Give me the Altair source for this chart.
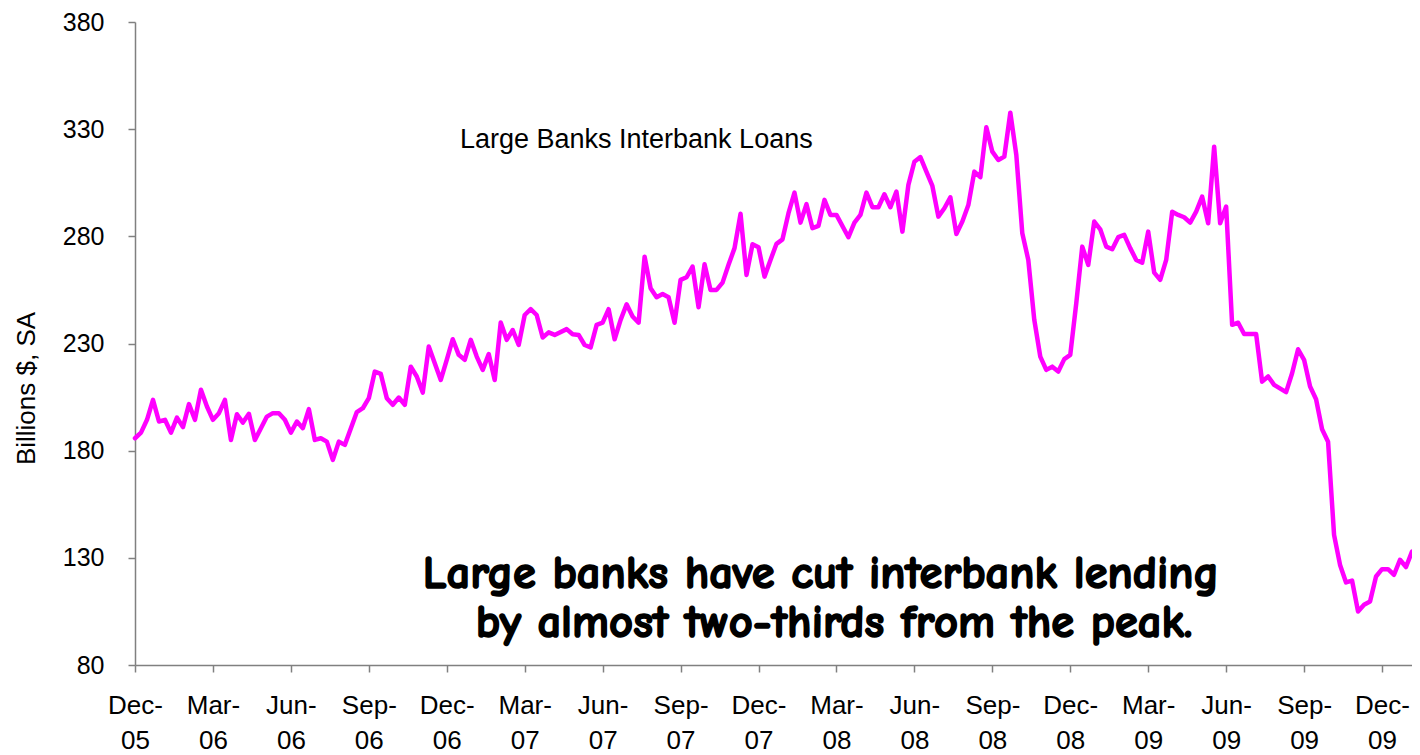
import altair as alt
import pandas as pd

# Weekly observations (week 0 = first week of Dec 2005), billions $, SA
weeks = [*range(0, 36), *range(37, 50), *range(51, 71), *range(72, 118),
         *range(119, 191), *range(192, 214)]
loans = [
    # weeks 0-35
    185.8, 188.4, 194.4, 203.7, 193.6, 194.4, 188.4, 195.4, 191.0, 201.7,
    194.4, 208.4, 200.6, 194.4, 197.5, 203.7, 185.0, 197.0, 193.1, 197.2,
    185.0, 190.5, 195.9, 197.5, 197.5, 194.4, 188.4, 193.6, 190.5, 199.4,
    185.0, 185.8, 184.2, 175.7, 184.2, 182.7,
    # weeks 37-49
    198.0, 199.8, 204.5, 216.9, 215.8, 204.5, 201.4, 204.8, 201.4, 219.2,
    214.6, 207.1, 228.6,
    # weeks 51-70
    213.0, 222.4, 232.0, 224.7, 222.4, 231.7, 223.9, 217.7, 225.1, 213.0,
    239.8, 231.7, 236.3, 229.3, 243.3, 246.0, 243.3, 232.8, 235.2, 234.0,
    # weeks 72-117
    236.7, 234.3, 234.0, 229.3, 228.2, 238.7, 239.7, 246.0, 232.0, 241.0,
    248.3, 242.6, 239.7, 270.5, 255.8, 251.6, 253.1, 251.6, 239.7, 259.7,
    260.9, 265.9, 246.9, 267.0, 255.0, 255.0, 258.4, 266.7, 274.5, 290.5,
    262.0, 276.3, 274.9, 261.2, 269.0, 276.5, 278.6, 290.8, 300.4, 286.4,
    295.0, 283.8, 284.9, 297.0, 290.0, 290.0,
    # weeks 119-190
    279.6, 286.4, 290.0, 300.4, 293.6, 293.6, 299.6, 293.6, 300.9, 282.2,
    304.0, 314.8, 317.0, 310.2, 303.5, 289.2, 293.1, 298.2, 281.1, 286.9,
    294.6, 310.2, 307.6, 330.9, 319.5, 315.6, 317.2, 337.7, 318.0, 281.4,
    269.0, 241.0, 223.9, 217.7, 219.2, 216.9, 222.7, 224.7, 248.8, 275.2,
    266.7, 286.9, 283.3, 275.2, 274.0, 279.6, 280.7, 274.5, 269.0, 267.7,
    282.2, 263.1, 259.7, 269.0, 291.5, 290.0, 288.9, 286.4, 291.5, 298.5,
    286.1, 321.8, 286.1, 293.9, 238.7, 239.7, 234.4, 234.4, 234.4, 212.2,
    214.6, 210.7,
    # weeks 192-213
    207.3, 216.1, 227.3, 222.4, 209.9, 204.0, 190.0, 184.2, 140.7, 126.7,
    118.5, 119.4, 105.0, 108.1, 109.6, 121.3, 124.7, 124.7, 122.1, 129.1,
    125.7, 132.9,
]

tick_weeks = list(range(0, 209, 13))
tick_labels = ["Dec-05", "Mar-06", "Jun-06", "Sep-06", "Dec-06", "Mar-07",
               "Jun-07", "Sep-07", "Dec-07", "Mar-08", "Jun-08", "Sep-08",
               "Dec-08", "Mar-09", "Jun-09", "Sep-09", "Dec-09"]
y_ticks = [80, 130, 180, 230, 280, 330, 380]

series_title = "Large Banks Interbank Loans"
note_lines = ["Large banks have cut interbank lending",
              "by almost two-thirds from the peak."]
# annotation anchor points in data coordinates (week, value)
title_pos = (54.2, 321.2)
note_pos_week = [114.4, 116.6]
note_pos_value = [116.0, 93.2]

line_df = pd.DataFrame({"week": weeks, "loans": loans})
title_df = pd.DataFrame({"week": [title_pos[0]], "loans": [title_pos[1]],
                         "text": [series_title]})
note_df = pd.DataFrame({"week": note_pos_week, "loans": note_pos_value,
                        "text": note_lines})

pairs = ",".join("['%s-','%s']" % tuple(l.split("-")) for l in tick_labels)
label_expr = f"[{pairs}][round(datum.value / 13)]"

AX = "#808080"
FONT = "Liberation Sans, Arial, sans-serif"

x_scale = alt.Scale(domain=[0, 213], nice=False, zero=False)
y_scale = alt.Scale(domain=[80, 380], nice=False, zero=False)

line = alt.Chart(line_df).mark_line(
    color="#FF00FF", strokeWidth=4.5, strokeJoin="round", strokeCap="round"
).encode(
    x=alt.X("week:Q", scale=x_scale, axis=alt.Axis(
        values=tick_weeks, labelExpr=label_expr, title=None, grid=False,
        labelFont=FONT, labelFontSize=26, labelColor="black",
        labelLineHeight=35, labelBaseline="alphabetic", labelAlign="center",
        labelPadding=41, labelAngle=0, labelOverlap=False, labelFlush=False,
        tickSize=7, tickColor=AX, tickWidth=1.5, domainColor=AX, domainWidth=1.5)),
    y=alt.Y("loans:Q", scale=y_scale, axis=alt.Axis(
        values=y_ticks, title="Billions $, SA", grid=False,
        labelFont=FONT, labelFontSize=25, labelColor="black", labelPadding=24,
        tickSize=7, tickColor=AX, tickWidth=1.5, domainColor=AX, domainWidth=1.5,
        titleFont=FONT, titleFontSize=26, titleFontWeight="normal",
        titleColor="black", titleAngle=270, titleAlign="center",
        titleBaseline="middle", titleX=-109, titleY=366)),
)

title_text = alt.Chart(title_df).mark_text(
    align="left", baseline="alphabetic", font=FONT, fontSize=27, color="black"
).encode(x="week:Q", y="loans:Q", text="text:N")

note_text = alt.Chart(note_df).mark_text(
    align="center", baseline="alphabetic",
    font="Comic Sans MS, Comic Neue, Lato, sans-serif",
    fontSize=46.5, fontWeight="bold", color="black",
    stroke="black", strokeWidth=1.6, strokeJoin="round"
).encode(x="week:Q", y="loans:Q", text="text:N")

chart = alt.layer(line, title_text, note_text).properties(
    width=1277, height=643,
    padding={"left": 127, "top": 14, "right": 0, "bottom": 90},
    autosize=alt.AutoSizeParams(type="none"),
    background="white",
).configure_view(strokeWidth=0)

chart.save("out.html", embed_options={"renderer": "svg", "actions": False})
